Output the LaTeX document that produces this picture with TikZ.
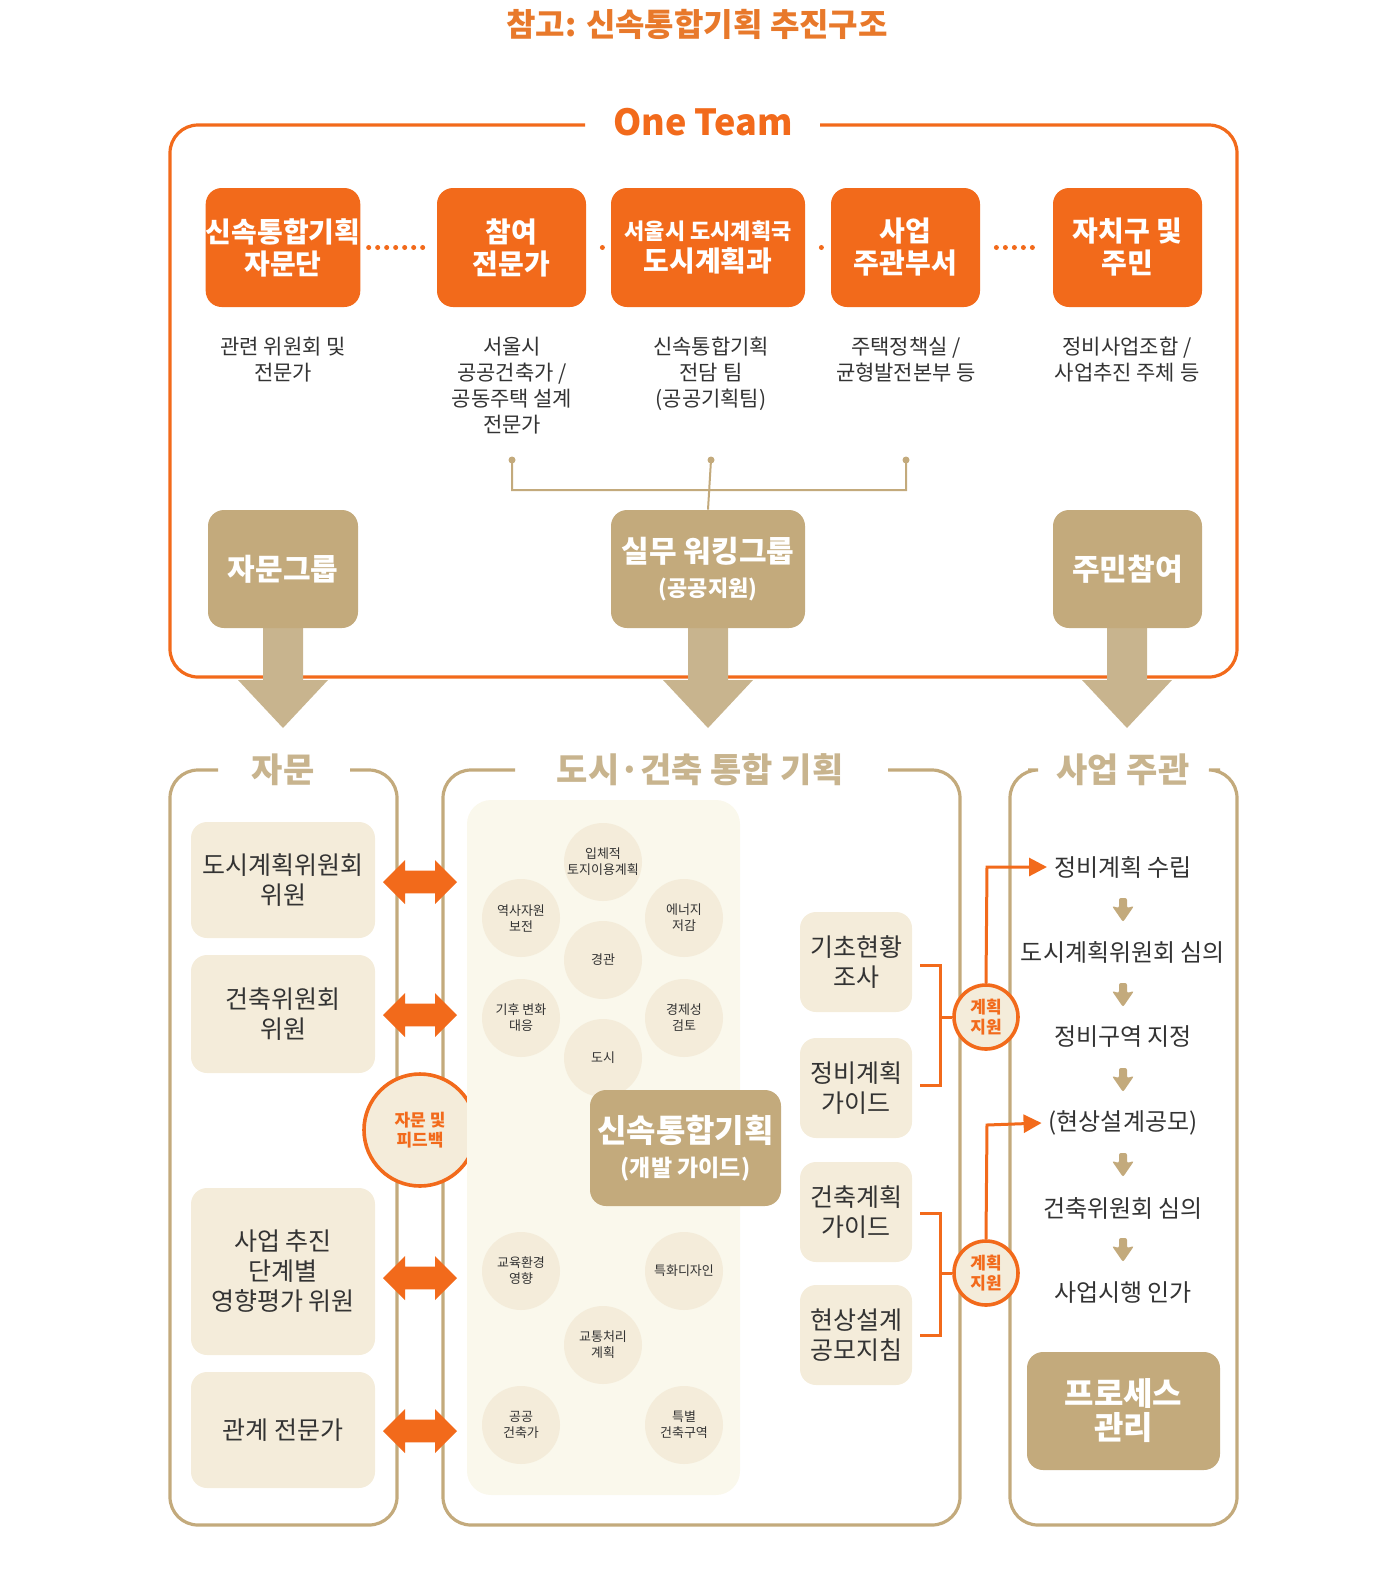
\documentclass[tikz,border=0pt]{standalone}
\usepackage{fontspec}
\setmainfont{Noto Sans CJK KR}
\usetikzlibrary{shapes.arrows,arrows.meta}
\definecolor{org}{HTML}{F26A1B}
\definecolor{ttl}{HTML}{E8792B}
\definecolor{tan}{HTML}{C3AA7C}
\definecolor{tanl}{HTML}{C8B48E}
\definecolor{beige}{HTML}{F4ECDA}
\definecolor{pan}{HTML}{FAF8EC}
\definecolor{txt}{HTML}{333333}
\tikzset{
 obox/.style={fill=org,text=white,rounded corners=8pt,font=\bfseries\fontsize{14}{16}\selectfont,align=center,inner sep=0pt},
 tbox/.style={fill=tan,text=white,rounded corners=8pt,font=\bfseries\fontsize{15}{17}\selectfont,align=center,inner sep=0pt},
 bbox/.style={fill=beige,text=txt,rounded corners=8pt,font=\fontsize{12.5}{15}\selectfont,align=center,inner sep=0pt},
 desc/.style={text=txt,font=\fontsize{10.5}{13}\selectfont,align=center},
 circ/.style={circle,fill=beige,minimum size=39pt,inner sep=0pt,text=txt,font=\fontsize{6.5}{8}\selectfont,align=center},
 dots/.style={org,line width=2.5pt,dash pattern=on 0pt off 4.5pt,line cap=round},
 dbl/.style={double arrow,fill=org,minimum height=37pt,minimum width=22pt,double arrow head extend=3pt,inner sep=3pt},
 frame/.style={line width=1.6pt,rounded corners=14pt},
 flab/.style={font=\bfseries\fontsize{17}{20}\selectfont,fill=white,inner xsep=6pt},
 stepl/.style={text=txt,font=\fontsize{12}{14}\selectfont},
 ocirc/.style={circle,draw=org,line width=1.8pt,fill=beige,text=org,font=\bfseries\fontsize{8.5}{10}\selectfont,align=center,inner sep=0pt},
}
\newcommand\bx[7]{\node[#6,minimum width={(#4-#2)*0.5pt},minimum height={(#5-#3)*0.5pt}] (#1) at ({(#2+#4)/2},{(#3+#5)/2}) {#7};}
\begin{document}
\begin{tikzpicture}[x=0.5pt,y=-0.5pt]
\useasboundingbox (0,0) rectangle (1400,1581);
\node[text=ttl,font=\bfseries\fontsize{16}{18}\selectfont] (title) at (697,24) {참고: 신속통합기획 추진구조};
% One team frame
\draw[org,frame] (585,125) -- (170,125) -- (170,677) -- (1237,677) -- (1237,125) -- (820,125);
\node[text=org,font=\bfseries\fontsize{18}{20}\selectfont] (oneteam) at (703,122) {One Team};
\bx{a1}{208}{188}{358}{307}{obox}{신속통합기획\\자문단}
\bx{a2}{437}{188}{586}{307}{obox}{참여\\전문가}
\bx{a3}{611}{188}{805}{307}{obox}{{\fontsize{11}{14}\selectfont 서울시 도시계획국}\\도시계획과}
\bx{a4}{831}{188}{980}{307}{obox}{사업\\주관부서}
\bx{a5}{1053}{188}{1202}{307}{obox}{자치구 및\\주민}
\draw[dots] (a1.east)++(8,0) -- ([xshift=-6]a2.west);
\draw[dots] ([xshift=8]a2.east) -- ([xshift=-6]a3.west);
\draw[dots] ([xshift=8]a3.east) -- ([xshift=-6]a4.west);
\draw[dots] ([xshift=8]a4.east) -- ([xshift=-6]a5.west);
\node[desc,anchor=north] (d1) at (283,330) {관련 위원회 및\\전문가};
\node[desc,anchor=north] (d2) at (512,330) {서울시\\공공건축가 /\\공동주택 설계\\전문가};
\node[desc,anchor=north] (d3) at (711,330) {신속통합기획\\전담 팀\\(공공기획팀)};
\node[desc,anchor=north] (d4) at (906,330) {주택정책실 /\\균형발전본부 등};
\node[desc,anchor=north] (d5) at (1127,330) {정비사업조합 /\\사업추진 주체 등};
% tan boxes with arrows
\foreach \cx/\n in {283/g1,708/g2,1127/g3}{
 \fill[tanl] (\cx-20,620) -- (\cx+20,620) -- (\cx+20,680) -- (\cx+45,680) -- (\cx,728) -- (\cx-45,680) -- (\cx-20,680) -- cycle;
}
\bx{g1}{208}{510}{358}{628}{tbox}{자문그룹}
\bx{g2}{611}{510}{805}{628}{tbox}{실무 워킹그룹\\{\fontsize{11}{13}\selectfont (공공지원)}}
\bx{g3}{1053}{510}{1202}{628}{tbox}{주민참여}
\coordinate (p1) at (512,460); \coordinate (p2) at (711,460); \coordinate (p3) at (906,460);
\draw[tan,line width=1pt] (p1) -- (512,490) -- (906,490) -- (p3) (p2) -- (g2.north);
\foreach \p in {p1,p2,p3} \fill[tan] (\p) circle (3.5);
% lower frames
\draw[tan,frame] (218,770) -- (170,770) -- (170,1525) -- (397,1525) -- (397,770) -- (350,770);
\node[text=tanl,flab] (f1) at (283,770) {자문};
\draw[tan,frame] (515,770) -- (443,770) -- (443,1525) -- (960,1525) -- (960,770) -- (888,770);
\node[text=tanl,flab] (f2) at (700,770) {도시·건축 통합 기획};
\draw[tan,frame] (1028,770) -- (1010,770) -- (1010,1525) -- (1237,1525) -- (1237,770) -- (1220,770);
\node[text=tanl,flab] (f3) at (1123,770) {사업 주관};
% left boxes
\bx{l1}{191}{822}{375}{938}{bbox}{도시계획위원회\\위원}
\bx{l2}{191}{955}{375}{1073}{bbox}{건축위원회\\위원}
\bx{l3}{191}{1188}{375}{1355}{bbox}{사업 추진\\단계별\\영향평가 위원}
\bx{l4}{191}{1372}{375}{1488}{bbox}{관계 전문가}
\node[ocirc,minimum size=56pt] (fb) at (420,1130) {자문 및\\피드백};
% panel
\fill[pan,rounded corners=12pt] (467,800) rectangle (740,1495);
\foreach \n/\x/\y/\t in {c1/603/862/입체적\\토지이용계획, c2/521/918/역사자원\\보전, c3/684/918/에너지\\저감, c4/603/960/경관/\\보행축, c5/521/1018/기후 변화\\대응, c6/684/1018/경제성\\검토, c7/603/1058/도시/건축\\통합설계, c8/521/1271/교육환경\\영향, c9/684/1271/특화디자인, c10/603/1345/교통처리\\계획, c11/521/1425/공공\\건축가, c12/684/1425/특별\\건축구역}
 \node[circ] (\n) at (\x,\y) {\t};
\bx{core}{590}{1090}{781}{1206}{tbox}{{\fontsize{16}{19}\selectfont 신속통합기획}\\{\fontsize{11.5}{14}\selectfont (개발 가이드)}}
% double arrows
\foreach \y/\n in {882/e1,1015/e2,1278/e3,1431/e4}
 \node[dbl] (\n) at (420,\y) {};
% right guide boxes
\bx{r1}{800}{912}{912}{1012}{bbox}{기초현황\\조사}
\bx{r2}{800}{1038}{912}{1138}{bbox}{정비계획\\가이드}
\bx{r3}{800}{1162}{912}{1262}{bbox}{건축계획\\가이드}
\bx{r4}{800}{1285}{912}{1385}{bbox}{현상설계\\공모지침}
\node[ocirc,minimum size=32pt] (s1) at (986,1017) {계획\\지원};
\node[ocirc,minimum size=32pt] (s2) at (986,1273) {계획\\지원};
\draw[org,line width=1.5pt] (920,965) -- (940,965) -- (940,1085) -- (920,1085) (940,1017) -- (s1.west);
\draw[org,line width=1.5pt] (920,1213) -- (940,1213) -- (940,1335) -- (920,1335) (940,1273) -- (s2.west);
% steps
\node[stepl] (t1) at (1123,867) {정비계획 수립};
\node[stepl] (t2) at (1123,952) {도시계획위원회 심의};
\node[stepl] (t3) at (1123,1037) {정비구역 지정};
\node[stepl] (t4) at (1123,1123) {(현상설계공모)};
\node[stepl] (t5) at (1123,1208) {건축위원회 심의};
\node[stepl] (t6) at (1123,1293) {사업시행 인가};
\draw[org,line width=1.5pt,-{Triangle[length=9pt,width=9pt]}] (s1.north) -- (987,867) -- (t1.west);
\draw[org,line width=1.5pt,-{Triangle[length=9pt,width=9pt]}] (s2.north) -- (987,1125) -- (t4.west);
\foreach \y in {910,995,1080,1165,1250}
 \fill[tan,rounded corners=1pt] (1119,\y-12) -- (1127,\y-12) -- (1127,\y-2) -- (1134,\y-4) -- (1123,\y+12) -- (1112,\y-4) -- (1119,\y-2) -- cycle;
\bx{pm}{1027}{1352}{1220}{1470}{tbox}{{\fontsize{16}{19}\selectfont 프로세스}\\{\fontsize{16}{19}\selectfont 관리}}
\end{tikzpicture}
\end{document}
